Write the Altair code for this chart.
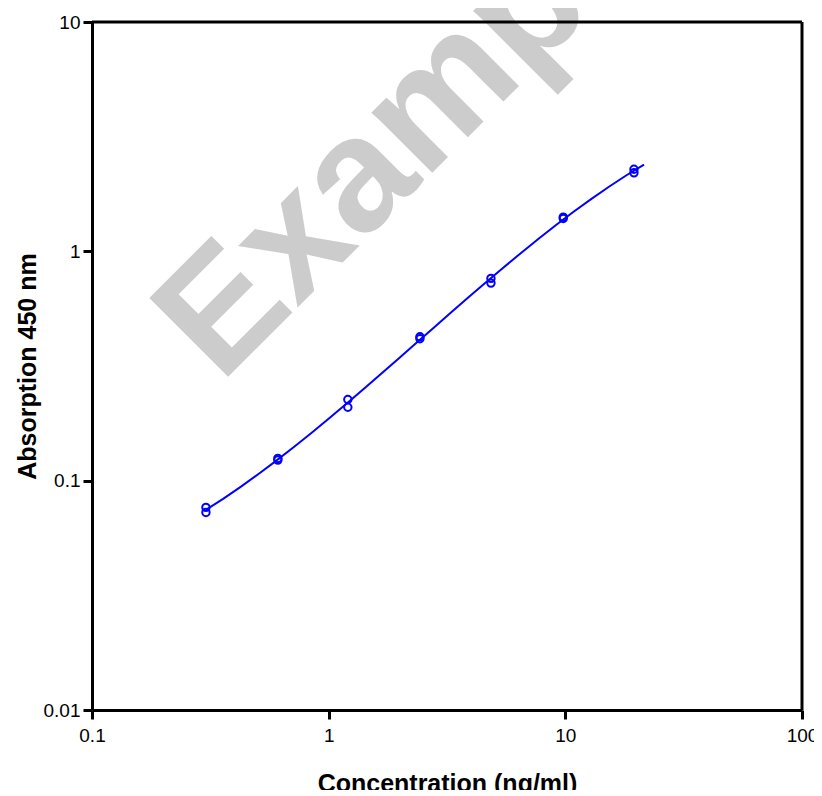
import altair as alt
import pandas as pd
import math

# Standard curve data (duplicates)
conc = [0.303, 0.303, 0.61, 0.61, 1.205, 1.205, 2.43, 2.43, 4.85, 4.85, 9.8, 9.8, 19.5, 19.5]
absorb = [0.0765, 0.0727, 0.125, 0.123, 0.226, 0.209, 0.424, 0.416, 0.762, 0.727, 1.41, 1.39, 2.28, 2.20]

x_ticks = [0.1, 1, 10, 100]
y_ticks = [0.01, 0.1, 1, 10]
curve_range = [0.303, 21.5]

df = pd.DataFrame({"conc": conc, "abs": absorb})

W, H = 710, 688
BLUE = "#0000ff"
FONT = "Liberation Sans"

xscale = alt.Scale(type="log", domain=[0.1, 100])
yscale = alt.Scale(type="log", domain=[0.01, 10])

xaxis = alt.Axis(values=x_ticks, format="~g", title="Concentration (ng/ml)",
                 grid=False, labelFontSize=19, labelFont=FONT, labelColor="black",
                 titleFontSize=25, titleFont=FONT, titleFontWeight="bold", titleColor="black",
                 titlePadding=26, labelPadding=7, domainWidth=3, domainColor="black",
                 tickWidth=3, tickColor="black", tickSize=9, labelFlush=False, labelOverlap=False,
                 zindex=1)
yaxis = alt.Axis(values=y_ticks, format="~g", title="Absorption 450 nm",
                 grid=False, labelFontSize=19, labelFont=FONT, labelColor="black",
                 titleFontSize=25, titleFont=FONT, titleFontWeight="bold", titleColor="black",
                 titlePadding=3, labelPadding=3, domainWidth=3, domainColor="black",
                 tickWidth=3, tickColor="black", tickSize=9, labelFlush=False, labelOverlap=False,
                 zindex=1)

base = alt.Chart(df)

watermark = alt.Chart(pd.DataFrame({"t": ["Example"]})).mark_text(
    font=FONT, fontSize=162, fontWeight="bold", color="#cccccc",
    angle=315, align="center", baseline="alphabetic"
).encode(text="t:N", x=alt.value(364), y=alt.value(127))

curve = base.transform_calculate(
    lx="log(datum.conc)/LN10", ly="log(datum.abs)/LN10"
).transform_regression(
    "lx", "ly", method="poly", order=3,
    extent=[math.log10(curve_range[0]), math.log10(curve_range[1])]
).transform_calculate(
    cx="pow(10, datum.lx)", cy="pow(10, datum.ly)"
).mark_line(color=BLUE, strokeWidth=2).encode(
    x=alt.X("cx:Q", scale=xscale, axis=xaxis),
    y=alt.Y("cy:Q", scale=yscale, axis=yaxis),
)

points = base.mark_point(shape="circle", filled=False, color=BLUE, size=55, strokeWidth=2, opacity=1).encode(
    x=alt.X("conc:Q", scale=xscale, axis=xaxis),
    y=alt.Y("abs:Q", scale=yscale, axis=yaxis),
)

top_rule = alt.Chart(pd.DataFrame({"a": [0]})).mark_rule(color="black", strokeWidth=3).encode(
    x=alt.value(0), x2=alt.value(W), y=alt.value(0))
right_rule = alt.Chart(pd.DataFrame({"a": [0]})).mark_rule(color="black", strokeWidth=3).encode(
    x=alt.value(W), y=alt.value(0), y2=alt.value(H))

chart = alt.layer(watermark, curve, points, top_rule, right_rule).properties(
    width=W, height=H,
    autosize=alt.AutoSizeParams(type="none"),
    padding={"left": 84, "top": 14, "right": 12, "bottom": 80},
).configure_view(stroke=None).configure(background="white")

chart.save("out.html", embed_options={"renderer": "svg", "actions": False})
